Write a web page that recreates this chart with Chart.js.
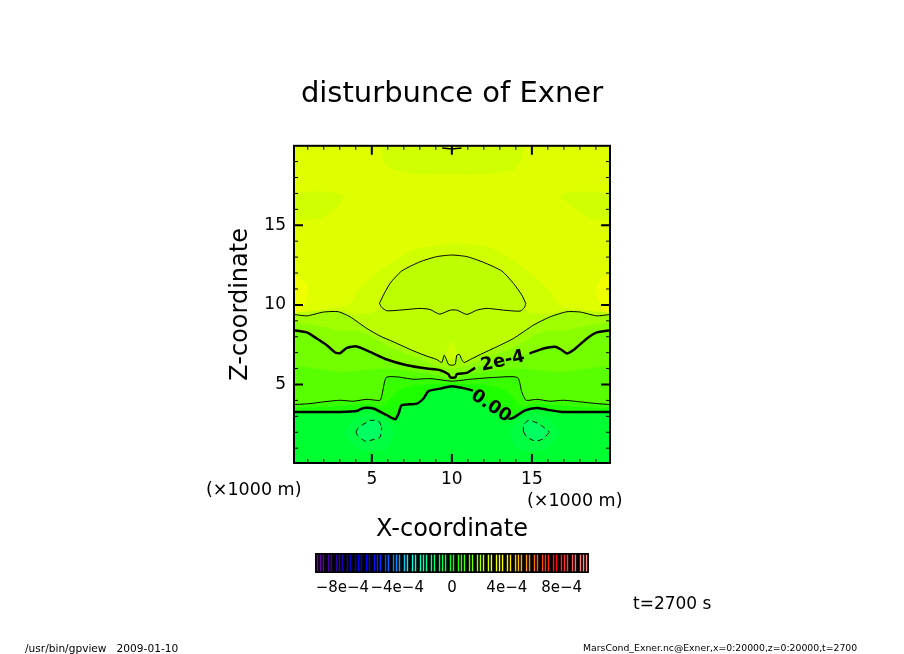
<!DOCTYPE html>
<html>
<head>
<meta charset="utf-8">
<script src="https://cdn.jsdelivr.net/npm/chart.js@4/dist/chart.umd.min.js"></script>
<style>
  body { margin: 0; background: #fff; width: 904px; height: 654px; overflow: hidden; position: relative; }
  canvas { position: absolute; }
  .note { position: absolute; white-space: pre; font-family: "DejaVu Sans", sans-serif; color: #000; line-height: 1; }
</style>
</head>
<body>
<canvas id="contour_chart" width="904" height="654" style="left:0;top:0"></canvas>
<canvas id="colorbar_chart" width="295" height="55" style="left:305px;top:545px"></canvas>
<span class="note" style="left:206px;top:481px;font-size:17.5px">(×1000 m)</span>
<span class="note" style="left:527px;top:492px;font-size:17.5px">(×1000 m)</span>
<span class="note" style="left:633px;top:595px;font-size:17px">t=2700 s</span>
<span class="note" style="left:25px;top:643px;font-size:10.6px">/usr/bin/gpview   2009-01-10</span>
<span class="note" style="left:583px;top:643px;font-size:9.3px">MarsCond_Exner.nc@Exner,x=0:20000,z=0:20000,t=2700</span>

<script>
// axis ticks (x and z in 1000 m)
var majorTicks = [5, 10, 15];
var minorTicks = [1, 2, 3, 4, 6, 7, 8, 9, 11, 12, 13, 14, 16, 17, 18, 19];

// contour lines
var contour4a = [{x:5.48,y:10.09},{x:5.73,y:10.62},{x:6.14,y:11.35},{x:6.87,y:12.13},{x:8.02,y:12.71},{x:9.06,y:13.03},{x:10,y:13.13},{x:10.94,y:13.03},{x:11.98,y:12.67},{x:13.12,y:12.13},{x:13.85,y:11.35},{x:14.37,y:10.62},{x:14.62,y:10.09}];
var contour4b = [{x:5.48,y:10.09},{x:5.62,y:9.84},{x:5.94,y:9.63},{x:7.19,y:9.71},{x:8.02,y:9.78},{x:8.64,y:9.71},{x:9.23,y:9.42},{x:9.9,y:9.67},{x:10.31,y:9.67},{x:10.94,y:9.4},{x:11.56,y:9.67},{x:12.19,y:9.78},{x:13.23,y:9.67},{x:14.27,y:9.61},{x:14.54,y:9.84},{x:14.62,y:10.09}];
var contour3 = [{x:0.14,y:9.4},{x:0.94,y:9.31},{x:1.98,y:9.55},{x:2.91,y:9.57},{x:3.64,y:9.25},{x:4.69,y:8.52},{x:5.52,y:8.04},{x:6.35,y:7.68},{x:7.6,y:7.11},{x:8.44,y:6.78},{x:9.06,y:6.57},{x:9.37,y:6.38},{x:9.52,y:6.84},{x:9.64,y:6.63},{x:9.79,y:6.27},{x:10,y:6.21},{x:10.21,y:6.27},{x:10.31,y:6.84},{x:10.48,y:6.88},{x:10.62,y:6.57},{x:10.77,y:6.38},{x:11.15,y:6.57},{x:11.77,y:6.88},{x:12.81,y:7.37},{x:13.85,y:7.89},{x:15.1,y:8.73},{x:16.14,y:9.25},{x:17.19,y:9.57},{x:18.02,y:9.55},{x:19.06,y:9.31},{x:19.89,y:9.4}];
var contour2 = [{x:0.14,y:8.41},{x:0.94,y:8.27},{x:1.56,y:7.89},{x:2.19,y:7.47},{x:2.71,y:7.01},{x:3.02,y:6.97},{x:3.44,y:7.3},{x:4.06,y:7.39},{x:4.89,y:7.05},{x:5.94,y:6.57},{x:7.19,y:6.21},{x:8.44,y:6},{x:9.27,y:5.9},{x:9.79,y:5.65},{x:9.9,y:5.44},{x:10.21,y:5.44},{x:10.31,y:5.65},{x:10.94,y:5.73},{x:11.46,y:6.04},{x:14.85,y:6.95},{x:15.73,y:7.26},{x:16.46,y:7.37},{x:16.87,y:7.16},{x:17.19,y:6.95},{x:17.6,y:7.16},{x:18.44,y:7.89},{x:19.06,y:8.27},{x:19.89,y:8.41}];
var contour1 = [{x:0.14,y:3.74},{x:1.14,y:3.8},{x:1.98,y:3.91},{x:3.02,y:4.01},{x:3.85,y:3.95},{x:4.69,y:4.07},{x:5.52,y:4.01},{x:5.65,y:4.43},{x:5.9,y:5.44},{x:6.56,y:5.48},{x:7.6,y:5.33},{x:8.64,y:5.37},{x:10,y:5.21},{x:11.15,y:5.33},{x:12.6,y:5.44},{x:14.1,y:5.44},{x:14.37,y:4.53},{x:14.64,y:4.01},{x:15.31,y:4.07},{x:16.14,y:3.95},{x:16.98,y:4.01},{x:18.02,y:3.91},{x:19.06,y:3.8},{x:19.89,y:3.74}];
var contour0 = [{x:0.14,y:3.28},{x:1.98,y:3.28},{x:3.02,y:3.28},{x:4.06,y:3.34},{x:4.48,y:3.53},{x:5.1,y:3.49},{x:5.94,y:3.07},{x:6.46,y:2.82},{x:6.67,y:3.17},{x:6.87,y:3.7},{x:7.81,y:3.8},{x:8.23,y:4.12},{x:8.54,y:4.58},{x:9.27,y:4.74},{x:10,y:4.89},{x:10.62,y:4.79},{x:11.31,y:4.6},{x:13.54,y:2.86},{x:13.85,y:2.92},{x:14.58,y:3.38},{x:15.31,y:3.53},{x:15.94,y:3.42},{x:16.87,y:3.28},{x:19.89,y:3.28}];
var contourTop = [{x:9.4,y:19.85},{x:10,y:19.8},{x:10.6,y:19.85}];
var contourTopStem = [{x:10,y:19.85},{x:10,y:19.55}];

// dashed closed lows, upper and lower halves
var lowLeftUpper = [{x:4.02,y:2.02},{x:4.12,y:2.23},{x:4.37,y:2.44},{x:4.73,y:2.65},{x:4.94,y:2.75},{x:5.42,y:2.71},{x:5.62,y:2.33}];
var lowLeftLower = [{x:4.02,y:2.02},{x:4.1,y:1.81},{x:4.58,y:1.45},{x:5.1,y:1.54},{x:5.52,y:1.7},{x:5.62,y:2.33}];
var lowRightUpper = [{x:14.48,y:2.02},{x:14.48,y:2.44},{x:14.79,y:2.75},{x:15.42,y:2.54},{x:16.1,y:2.02}];
var lowRightLower = [{x:14.48,y:2.02},{x:14.69,y:1.7},{x:15.21,y:1.45},{x:15.73,y:1.6},{x:16.1,y:2.02}];

// colour band edges that have no contour line
var bandTopFrame = [{x:0.14,y:20},{x:19.88,y:20}];
var bandAroundDome = [{x:0.14,y:9.45},{x:1.5,y:9.65},{x:3,y:9.85},{x:3.64,y:10.09},{x:4.06,y:10.83},{x:5.52,y:12.19},{x:7.6,y:13.45},{x:10.1,y:13.87},{x:12.2,y:13.66},{x:13.85,y:12.82},{x:16.14,y:10.83},{x:16.56,y:10.09},{x:17,y:9.85},{x:18.5,y:9.65},{x:19.88,y:9.45}];
var bandUnderDome = [{x:0.14,y:9.5},{x:2,y:9.65},{x:3,y:9.65},{x:4,y:9.4},{x:5,y:9.5},{x:6,y:9.9},{x:10,y:9.9},{x:14,y:9.9},{x:15,y:9.5},{x:16,y:9.4},{x:17,y:9.65},{x:18,y:9.65},{x:19.88,y:9.5}];
var band25 = [{x:0.14,y:8.9},{x:1,y:8.8},{x:2,y:8.6},{x:3,y:8.4},{x:4,y:8.4},{x:5,y:8},{x:6,y:7.4},{x:7.5,y:6.8},{x:9,y:6.2},{x:10,y:6},{x:11,y:6.2},{x:12.5,y:6.8},{x:14,y:7.4},{x:15,y:8},{x:16,y:8.4},{x:17,y:8.4},{x:18,y:8.6},{x:19,y:8.8},{x:19.88,y:8.9}];
var band15 = [{x:0.14,y:6.2},{x:1.5,y:6},{x:3,y:5.8},{x:4.5,y:5.9},{x:6,y:6},{x:7.5,y:5.85},{x:9,y:5.6},{x:10,y:5.36},{x:11,y:5.6},{x:12.5,y:5.85},{x:14,y:6},{x:15.5,y:5.9},{x:17,y:5.8},{x:18.5,y:6},{x:19.88,y:6.2}];
var band05 = [{x:0.14,y:3.52},{x:2,y:3.6},{x:4,y:3.75},{x:5,y:3.75},{x:5.6,y:3.6},{x:6.2,y:4.2},{x:6.8,y:4.7},{x:8,y:5},{x:10,y:5.05},{x:12,y:5},{x:13.2,y:4.7},{x:13.8,y:4.2},{x:14.4,y:3.6},{x:15,y:3.75},{x:16,y:3.75},{x:18,y:3.6},{x:19.88,y:3.52}];

// closed patches of the shading, upper and lower edges
var topPatchEdge = [{x:5.62,y:20},{x:5.73,y:19},{x:6.35,y:18.48},{x:7.6,y:18.23},{x:12.4,y:18.23},{x:13.85,y:18.48},{x:14.37,y:19.1},{x:14.48,y:20}];
var sideLeftUpper = [{x:0.14,y:17.01},{x:1.35,y:17.12},{x:2.6,y:17.07},{x:3.33,y:16.8}];
var sideLeftLower = [{x:0.14,y:15.33},{x:1.14,y:15.33},{x:1.98,y:15.54},{x:2.81,y:16.17},{x:3.33,y:16.8}];
var sideRightUpper = [{x:16.73,y:16.8},{x:17.19,y:17.07},{x:18.64,y:17.12},{x:19.88,y:17.01}];
var sideRightLower = [{x:16.73,y:16.8},{x:17.4,y:16.3},{x:18.2,y:15.7},{x:19,y:15.33},{x:19.88,y:15.33}];
var yellowLeftUpper = [{x:0.14,y:11.88},{x:0.52,y:11.77},{x:0.85,y:11.4},{x:1.04,y:11.04}];
var yellowLeftLower = [{x:0.14,y:9.45},{x:0.6,y:9.6},{x:0.9,y:10.2},{x:1.04,y:11.04}];
var yellowRightUpper = [{x:18.96,y:10.95},{x:19.37,y:11.77},{x:19.88,y:11.92}];
var yellowRightLower = [{x:18.96,y:10.95},{x:19.2,y:10.2},{x:19.5,y:9.6},{x:19.88,y:9.45}];
var spikeUpper = [{x:9.5,y:6.6},{x:9.85,y:7.5},{x:10,y:7.7},{x:10.15,y:7.5},{x:10.5,y:6.6}];
var spikeLower = [{x:9.5,y:6.6},{x:10.5,y:6.6}];
var haloLeftUpper = [{x:3.2,y:2},{x:4,y:2.9},{x:5,y:3.15},{x:6,y:2.7},{x:6.4,y:2}];
var haloLeftLower = [{x:3.2,y:2},{x:4,y:1},{x:5,y:0.8},{x:6,y:1},{x:6.4,y:2}];
var haloRightUpper = [{x:13.6,y:2},{x:14,y:2.7},{x:15,y:3.15},{x:16,y:2.9},{x:16.8,y:2}];
var haloRightLower = [{x:13.6,y:2},{x:14,y:1},{x:15,y:0.8},{x:16,y:1},{x:16.8,y:2}];

// contour labels
var contourLabels = ["2e-4", "0.00"];
var contourLabelX = [13.18, 12.44];
var contourLabelY = [6.46, 3.63];

// colour bar (units of 1e-4), one thin stripe per entry
var colorbarLevels = [-9.82,-9.60,-9.38,-9.01,-8.80,-8.43,-8.21,-7.99,-7.63,-7.41,-7.04,-6.82,-6.61,-6.24,-6.02,-5.66,-5.44,-5.22,-4.85,-4.64,-4.27,-4.05,-3.83,-3.47,-3.25,-2.88,-2.66,-2.30,-2.08,-1.86,-1.50,-1.28,-0.91,-0.69,-0.47,-0.11,0.11,0.47,0.69,0.91,1.28,1.50,1.86,2.08,2.30,2.66,2.88,3.25,3.47,3.69,4.05,4.27,4.64,4.85,5.07,5.44,5.66,6.02,6.24,6.61,6.82,7.04,7.41,7.63,7.99,8.21,8.43,8.80,9.01,9.38,9.60,9.82];
var colorbarColors = ["#7000A8","#6400A8","#5C00A8","#4C00A8","#4000A8","#3000A8","#2800B0","#2000B0","#1000C0","#0800C8","#0000D8","#0000E0","#0000E8","#0000F8","#0000FF","#0018FF","#0028FF","#0038FF","#0050FF","#0060FF","#0080FF","#0090FF","#00A8FF","#00D0FF","#00F0FF","#00FFE8","#00FFD8","#00FFC0","#00FFB0","#00FFA0","#00FF88","#00FF78","#00FF58","#00FF48","#00FF38","#00FF10","#08FF00","#28FF00","#38FF00","#48FF00","#68FF00","#78FF00","#98FF00","#A8FF00","#B8FF00","#D0FF00","#E0FF00","#F0FF00","#F8FF00","#FFFF00","#FFF000","#FFE000","#FFC800","#FFB800","#FFA800","#FF9800","#FF8800","#FF7000","#FF6000","#FF4800","#FF3800","#FF2800","#FF1000","#FF0000","#FF2020","#FF3030","#FF4040","#FF6060","#FF7070","#FF8080","#FF8888","#FF9090"];
var colorbarTicks = [-8, -4, 0, 4, 8];
var colorbarTickLabels = ["−8e−4", "−4e−4", "0", "4e−4", "8e−4"];

var FONT = '"DejaVu Sans", sans-serif';
var datasets = [];

// fills go first, painted from the top of the frame down
function band(data, color) {
    datasets.push({ data: data, borderWidth: 0, backgroundColor: color, fill: 'start' });
}
function patch(upper, lower, color) {
    datasets.push({ data: upper, borderWidth: 0, backgroundColor: color, fill: '+1' });
    datasets.push({ data: lower, borderWidth: 0, fill: false });
}
function contour(data, width, dash, gapFrom) {
    var ds = { data: data, borderColor: '#000', borderWidth: width, borderDash: dash || [], fill: false };
    if (gapFrom !== undefined) {
        // line is broken where the label sits
        ds.segment = {
            borderColor: function (ctx) {
                return ctx.p0.parsed.x === gapFrom ? 'rgba(0,0,0,0)' : undefined;
            }
        };
    }
    datasets.push(ds);
}

band(bandTopFrame, '#DFFF00');
datasets.push({ data: topPatchEdge, borderWidth: 0, backgroundColor: '#CFFF00', fill: { value: 20 } });
patch(sideLeftUpper, sideLeftLower, '#CFFF00');
patch(sideRightUpper, sideRightLower, '#CFFF00');
patch(yellowLeftUpper, yellowLeftLower, '#EFFF00');
patch(yellowRightUpper, yellowRightLower, '#EFFF00');
band(bandAroundDome, '#CFFF00');
band(bandUnderDome, '#BBFF00');
patch(contour4a, contour4b, '#BBFF00');
patch(spikeUpper, spikeLower, '#CCFF00');
band(contour3, '#A0FF00');
band(band25, '#8AFF00');
band(contour2, '#72FF00');
band(band15, '#58FF00');
band(contour1, '#38FF00');
band(band05, '#1EFF00');
band(contour0, '#00FF30');
patch(haloLeftUpper, haloLeftLower, '#00FF40');
patch(haloRightUpper, haloRightLower, '#00FF40');
patch(lowLeftUpper, lowLeftLower, '#00FF60');
patch(lowRightUpper, lowRightLower, '#00FF60');

contour(contour4a, 1);
contour(contour4b, 1);
contour(contour3, 1);
contour(contour1, 1);
contour(contour2, 2.5, null, 11.46);
contour(contour0, 2.5, null, 11.31);
contour(contourTop, 1.5);
contour(contourTopStem, 1.5);
contour(lowLeftUpper, 1, [5, 4]);
contour(lowLeftLower, 1, [5, 4]);
contour(lowRightUpper, 1, [5, 4]);
contour(lowRightLower, 1, [5, 4]);

datasets.forEach(function (ds, i) {
    ds.order = datasets.length - i;
    ds.pointRadius = 0;
    ds.tension = 0.2;
});

// frame, inward ticks on all four sides and the labels along the contours
var framePlugin = {
    id: 'frame',
    afterDatasetsDraw: function (chart) {
        var ctx = chart.ctx, a = chart.chartArea;
        var sx = chart.scales.x, sy = chart.scales.y;
        function ticks(values, len, width) {
            ctx.lineWidth = width;
            ctx.beginPath();
            values.forEach(function (v) {
                var px = sx.getPixelForValue(v), py = sy.getPixelForValue(v);
                ctx.moveTo(px, a.bottom); ctx.lineTo(px, a.bottom - len);
                ctx.moveTo(px, a.top); ctx.lineTo(px, a.top + len);
                ctx.moveTo(a.left, py); ctx.lineTo(a.left + len, py);
                ctx.moveTo(a.right, py); ctx.lineTo(a.right - len, py);
            });
            ctx.stroke();
        }
        ctx.save();
        ctx.strokeStyle = '#000';
        ticks(minorTicks, 4, 1);
        ticks(majorTicks, 9, 2);
        ctx.lineWidth = 2;
        ctx.strokeRect(a.left, a.top, a.right - a.left, a.bottom - a.top);

        ctx.fillStyle = '#000';
        ctx.font = 'bold 18px ' + FONT;
        ctx.textAlign = 'center';
        ctx.textBaseline = 'middle';
        var angles = [-12.5, 34];
        contourLabels.forEach(function (txt, i) {
            ctx.save();
            ctx.translate(sx.getPixelForValue(contourLabelX[i]), sy.getPixelForValue(contourLabelY[i]));
            ctx.rotate(angles[i] * Math.PI / 180);
            ctx.fillText(txt, 0, 0);
            ctx.restore();
        });
        ctx.restore();
    }
};

new Chart(document.getElementById("contour_chart").getContext("2d"), {
    type: 'line',
    data: { datasets: datasets },
    plugins: [framePlugin],
    options: {
        responsive: false,
        animation: false,
        plugins: {
            legend: { display: false },
            tooltip: { enabled: false },
            title: {
                display: true,
                text: 'disturbunce of Exner',
                color: '#000',
                font: { family: FONT, size: 29, weight: 'normal', lineHeight: 1.2 },
                padding: { top: 77, bottom: 34 }
            }
        },
        scales: {
            x: {
                type: 'linear',
                min: 0.14,
                max: 19.88,
                afterBuildTicks: function (s) { s.ticks = majorTicks.map(function (v) { return { value: v }; }); },
                afterFit: function (s) { s.height = 191; },
                grid: { display: false, drawTicks: false },
                border: { display: false },
                ticks: { color: '#000', padding: 6, maxRotation: 0, font: { family: FONT, size: 17 } },
                title: {
                    display: true,
                    text: 'X-coordinate',
                    color: '#000',
                    font: { family: FONT, size: 24 },
                    padding: { top: 0, bottom: 110 }
                }
            },
            y: {
                type: 'linear',
                min: 0.07,
                max: 19.99,
                afterBuildTicks: function (s) { s.ticks = majorTicks.map(function (v) { return { value: v }; }); },
                afterFit: function (s) { s.width = 294; },
                grid: { display: false, drawTicks: false },
                border: { display: false },
                ticks: { color: '#000', padding: 8, font: { family: FONT, size: 17 } },
                title: {
                    display: true,
                    text: 'Z-coordinate',
                    color: '#000',
                    font: { family: FONT, size: 24 },
                    padding: { top: 226, bottom: 0 }
                }
            },
            // empty axis, only keeps the frame off the right side so the title stays centred
            yRight: {
                position: 'right',
                afterFit: function (s) { s.width = 294; },
                grid: { display: false, drawTicks: false },
                border: { display: false },
                ticks: { display: false }
            }
        }
    }
});

// black strip behind the thin colour bars
var stripPlugin = {
    id: 'strip',
    beforeDatasetsDraw: function (chart) {
        var a = chart.chartArea;
        chart.ctx.fillStyle = '#000';
        chart.ctx.fillRect(a.left, a.top, a.right - a.left, a.bottom - a.top);
    }
};

new Chart(document.getElementById("colorbar_chart").getContext("2d"), {
    type: 'bar',
    data: {
        datasets: [{
            data: colorbarLevels.map(function (v) { return { x: v, y: 1 }; }),
            backgroundColor: colorbarColors,
            barThickness: 1.4,
            inflateAmount: 0
        }]
    },
    plugins: [stripPlugin],
    options: {
        responsive: false,
        animation: false,
        layout: { padding: { left: 10, right: 11, top: 8 } },
        plugins: { legend: { display: false }, tooltip: { enabled: false } },
        scales: {
            x: {
                type: 'linear',
                min: -10,
                max: 10,
                offset: false,
                afterBuildTicks: function (s) { s.ticks = colorbarTicks.map(function (v) { return { value: v }; }); },
                afterFit: function (s) { s.height = 27; },
                grid: { display: false, drawTicks: false },
                border: { display: false },
                ticks: {
                    color: '#000',
                    padding: 6,
                    autoSkip: false,
                    maxRotation: 0,
                    font: { family: FONT, size: 15 },
                    callback: function (v) { return colorbarTickLabels[colorbarTicks.indexOf(v)]; }
                }
            },
            y: { display: false, min: -0.1, max: 1.1 }
        }
    }
});
</script>
</body>
</html>
